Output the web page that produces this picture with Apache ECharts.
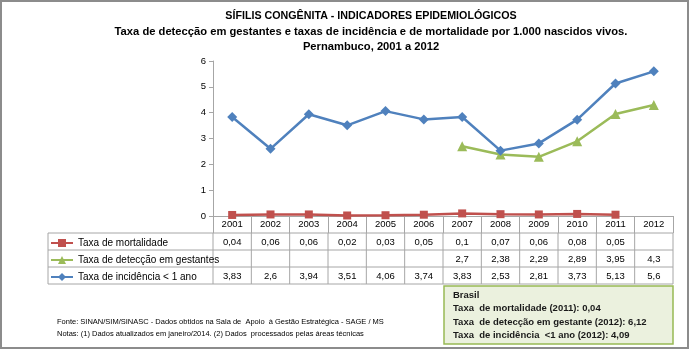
<!DOCTYPE html>
<html>
<head>
<meta charset="utf-8">
<title>Sífilis congênita - Pernambuco</title>
<script src="https://cdn.jsdelivr.net/npm/echarts@6/dist/echarts.min.js"></script>
<style>
  html, body { margin: 0; padding: 0; background: #fff; }
  #chart { width: 690px; height: 351px; }
</style>
</head>
<body>
<div id="chart"></div>
<script>
// dados
var anos = ['2001', '2002', '2003', '2004', '2005', '2006', '2007', '2008', '2009', '2010', '2011', '2012'];
var mortalidade = [0.04, 0.06, 0.06, 0.02, 0.03, 0.05, 0.1, 0.07, 0.06, 0.08, 0.05, null];
var deteccao = [null, null, null, null, null, null, 2.7, 2.38, 2.29, 2.89, 3.95, 4.3];
var incidencia = [3.83, 2.6, 3.94, 3.51, 4.06, 3.74, 3.83, 2.53, 2.81, 3.73, 5.13, 5.6];
var nomes = ['Taxa de mortalidade', 'Taxa de detecção em gestantes', 'Taxa de incidência < 1 ano'];
var cores = ['#c0504d', '#9bbb59', '#4f81bd'];
var titulos = [
  'SÍFILIS CONGÊNITA - INDICADORES EPIDEMIOLÓGICOS',
  'Taxa de detecção em gestantes e taxas de incidência e de mortalidade por 1.000 nascidos vivos.',
  'Pernambuco, 2001 a 2012'
];
var notas = [
  'Fonte: SINAN/SIM/SINASC - Dados obtidos na Sala de  Apoio  à Gestão Estratégica - SAGE / MS',
  'Notas: (1) Dados atualizados em janeiro/2014. (2) Dados  processados pelas áreas técnicas'
];
var brasil = [
  'Brasil',
  'Taxa  de mortalidade (2011): 0,04',
  'Taxa  de detecção em gestante (2012): 6,12',
  'Taxa  de incidência  <1 ano (2012): 4,09'
];

var fonte = '"Liberation Sans", sans-serif';
var cinza = '#a6a6a6';
var tamTitulo = [10.7, 11.2, 11.2];

var chart = echarts.init(document.getElementById('chart'));

function fmt(v) {
  return v == null ? '' : String(v).replace('.', ',');
}

var option = {
  animation: false,
  textStyle: { fontFamily: fonte },
  title: titulos.map(function (t, i) {
    return {
      text: t,
      left: 366,
      top: 6 + i * 15,
      textAlign: 'center',
      textStyle: { fontSize: tamTitulo[i], fontWeight: 'bold', color: '#000', fontFamily: fonte }
    };
  }),
  legend: {
    orient: 'vertical',
    left: 50,
    top: 238,
    padding: 0,
    itemWidth: 22,
    itemHeight: 10,
    itemGap: 7,
    selectedMode: false,
    data: nomes,
    textStyle: { fontSize: 10, color: '#000', fontFamily: fonte, lineHeight: 10 }
  },
  grid: { left: 213, right: 17, top: 61, bottom: 135, containLabel: false },
  xAxis: {
    type: 'category',
    data: anos,
    boundaryGap: true,
    axisLine: { lineStyle: { color: cinza } },
    axisTick: { show: true, length: 17, interval: 0, lineStyle: { color: cinza } },
    axisLabel: { margin: 3, fontSize: 9.5, color: '#000', fontFamily: fonte, interval: 0 }
  },
  yAxis: {
    type: 'value',
    min: 0,
    max: 6,
    interval: 1,
    splitLine: { show: false },
    axisLine: { show: true, lineStyle: { color: cinza } },
    axisTick: { show: true, length: 4, lineStyle: { color: cinza } },
    axisLabel: { margin: 7, fontSize: 9.5, color: '#000', fontFamily: fonte }
  },
  series: [
    { name: nomes[0], type: 'line', data: mortalidade, symbol: 'rect', symbolSize: 8,
      lineStyle: { width: 2.5, color: cores[0] }, itemStyle: { color: cores[0] } },
    { name: nomes[1], type: 'line', data: deteccao, symbol: 'triangle', symbolSize: 10,
      lineStyle: { width: 2.5, color: cores[1] }, itemStyle: { color: cores[1] } },
    { name: nomes[2], type: 'line', data: incidencia, symbol: 'diamond', symbolSize: 10,
      lineStyle: { width: 2.5, color: cores[2] }, itemStyle: { color: cores[2] } }
  ]
};
chart.setOption(option);

// tabela de dados abaixo do eixo
var c0 = chart.convertToPixel({ xAxisIndex: 0 }, 0);
var passo = chart.convertToPixel({ xAxisIndex: 0 }, 1) - c0;
var esq = c0 - passo / 2;
var dir = esq + passo * anos.length;
var y0 = chart.convertToPixel({ yAxisIndex: 0 }, 0);
var hLinha = 17;
var topo = y0 + hLinha;
var tabEsq = 48;
var g = [];

for (var r = 0; r <= 3; r++) {
  g.push({ type: 'line', shape: { x1: tabEsq, y1: topo + r * hLinha, x2: dir, y2: topo + r * hLinha },
    style: { stroke: cinza, lineWidth: 1 } });
}
g.push({ type: 'line', shape: { x1: tabEsq, y1: topo, x2: tabEsq, y2: topo + 3 * hLinha },
  style: { stroke: cinza, lineWidth: 1 } });
for (var k = 0; k <= anos.length; k++) {
  var xx = esq + k * passo;
  g.push({ type: 'line', shape: { x1: xx, y1: topo, x2: xx, y2: topo + 3 * hLinha },
    style: { stroke: cinza, lineWidth: 1 } });
}
[mortalidade, deteccao, incidencia].forEach(function (serie, r) {
  serie.forEach(function (v, i) {
    g.push({ type: 'text', x: c0 + i * passo, y: topo + r * hLinha + hLinha / 2 + 1,
      style: { text: fmt(v), align: 'center', verticalAlign: 'middle', fontSize: 9.5, fill: '#000', fontFamily: fonte } });
  });
});

// notas de rodapé
notas.forEach(function (t, i) {
  g.push({ type: 'text', x: 57, y: 322 + i * 12,
    style: { text: t, verticalAlign: 'middle', fontSize: 7.5, fill: '#000', fontFamily: fonte } });
});

// caixa Brasil
g.push({ type: 'rect', shape: { x: 444, y: 286, width: 229, height: 58 },
  style: { fill: '#ebf1de', stroke: '#98b954', lineWidth: 1.5 } });
brasil.forEach(function (t, i) {
  g.push({ type: 'text', x: 453, y: 295 + i * 13.5,
    style: { text: t, verticalAlign: 'middle', fontSize: 9.5, fontWeight: 'bold', fill: '#1a1a1a', fontFamily: fonte } });
});

// borda externa
g.push({ type: 'rect', shape: { x: 1, y: 1, width: 687, height: 347 },
  style: { fill: null, stroke: '#8c8c8c', lineWidth: 2 } });

chart.setOption({ graphic: g });
</script>
</body>
</html>
